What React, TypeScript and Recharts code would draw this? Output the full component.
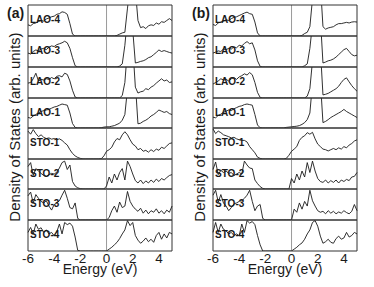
import { Line, LineChart, ReferenceLine, XAxis, YAxis } from "recharts"

const energies = [
	-6, -5.8, -5.6, -5.4, -5.2, -5, -4.8, -4.6, -4.4, -4.2,
	-4, -3.8, -3.6, -3.4, -3.2, -3, -2.8, -2.6, -2.4, -2.2,
	-2, -1.8, -1.6, -1.4, -1.2, -1, -0.8, -0.6, -0.4, -0.2,
	0, 0.2, 0.4, 0.6, 0.8, 1, 1.2, 1.4, 1.6, 1.8,
	2, 2.2, 2.4, 2.6, 2.8, 3, 3.2, 3.4, 3.6, 3.8,
	4, 4.2, 4.4, 4.6, 4.8, 5,
]
const layers = ["LAO-4", "LAO-3", "LAO-2", "LAO-1", "STO-1", "STO-2", "STO-3", "STO-4"]
const energyTicks = [-6, -4, -2, 0, 2, 4]
const minorTicks = [-6, -5, -4, -3, -2, -1, 0, 1, 2, 3, 4, 5]

// panel (a)
const aLao4 = [
	0.36, 0.33, 0.4, 0.42, 0.47, 0.5, 0.48, 0.55, 0.58, 0.62,
	0.64, 0.7, 0.72, 0.78, 0.76, 0.7, 0.4, 0.06, 0, 0,
	0, 0, 0, 0, 0, 0, 0, 0, 0, 0,
	0, 0, 0, 0, 0.02, 0.06, 0.1, 0.12, 0.9, 1.6,
	1.7, 1.5, 0.5, 0.27, 0.3, 0.24, 0.33, 0.36, 0.34, 0.42,
	0.38, 0.46, 0.44, 0.5, 0.56, 0.5,
]
const aLao3 = [
	0.45, 0.42, 0.5, 0.55, 0.52, 0.58, 0.6, 0.56, 0.64, 0.68,
	0.66, 0.72, 0.75, 0.78, 0.83, 0.78, 0.6, 0.3, 0.04, 0,
	0, 0, 0, 0, 0, 0, 0, 0, 0, 0,
	0, 0, 0, 0, 0, 0.03, 0.1, 0.7, 1.6, 1.7,
	1.2, 0.13, 0.15, 0.18, 0.2, 0.24, 0.3, 0.33, 0.4, 0.47,
	0.55, 0.5, 0.53, 0.5, 0.47, 0.45,
]
const aLao2 = [
	0.48, 0.5, 0.62, 0.8, 0.55, 0.6, 0.58, 0.62, 0.6, 0.66,
	0.62, 0.7, 0.72, 0.68, 0.8, 0.76, 0.55, 0.25, 0.03, 0,
	0, 0, 0, 0, 0, 0, 0, 0, 0, 0,
	0, 0, 0, 0, 0, 0, 0.08, 0.5, 1.6, 1.7,
	1.7, 0.35, 0.16, 0.2, 0.22, 0.3, 0.27, 0.35, 0.4, 0.48,
	0.55, 0.62, 0.55, 0.58, 0.5, 0.52,
]
const aLao1 = [
	0.35, 0.33, 0.4, 0.45, 0.5, 0.55, 0.58, 0.6, 0.62, 0.66,
	0.7, 0.72, 0.76, 0.8, 0.78, 0.76, 0.5, 0.15, 0.02, 0,
	0, 0, 0, 0, 0, 0, 0, 0, 0.01, 0.03,
	0.04, 0.04, 0.06, 0.08, 0.12, 0.16, 0.26, 0.45, 1.3, 1.7,
	1.7, 1.5, 0.14, 0.16, 0.22, 0.26, 0.32, 0.4, 0.45, 0.52,
	0.6, 0.56, 0.52, 0.55, 0.48, 0.45,
]
const aSto1 = [
	0.9, 0.8, 0.95, 0.82, 0.72, 0.78, 0.7, 0.66, 0.68, 0.64,
	0.66, 0.62, 0.65, 0.6, 0.52, 0.45, 0.3, 0.18, 0.1, 0.05,
	0.02, 0, 0, 0, 0, 0, 0, 0, 0.01, 0.1,
	0.25, 0.3, 0.38, 0.55, 0.66, 0.62, 0.78, 0.88, 0.78, 0.62,
	0.48, 0.42, 0.3, 0.34, 0.25, 0.28, 0.22, 0.3, 0.24, 0.32,
	0.28, 0.38, 0.34, 0.42, 0.5, 0.52,
]
const aSto2 = [
	0.75, 0.88, 0.45, 0.68, 0.6, 0.52, 0.45, 0.42, 0.48, 0.52,
	0.5, 0.56, 0.7, 0.88, 0.93, 0.65, 0.8, 0.25, 0.1, 0.04,
	0.01, 0, 0, 0, 0, 0, 0, 0, 0, 0,
	0.1, 0.4, 0.2, 0.5, 0.3, 0.55, 0.68, 0.3, 0.93, 0.75,
	0.5, 0.28, 0.2, 0.3, 0.18, 0.27, 0.2, 0.3, 0.22, 0.33,
	0.25, 0.35, 0.3, 0.38, 0.45, 0.48,
]
const aSto3 = [
	0.78, 0.9, 0.55, 0.82, 0.7, 0.6, 0.55, 0.62, 0.45, 0.32,
	0.5, 0.55, 0.62, 0.8, 0.96, 0.7, 0.4, 0.36, 0.55, 0.05,
	0, 0, 0, 0, 0, 0, 0, 0, 0, 0,
	0, 0.08, 0.3, 0.45, 0.25, 0.58, 0.4, 0.45, 0.92, 0.6,
	0.45, 0.35, 0.28, 0.38, 0.22, 0.32, 0.2, 0.3, 0.25, 0.36,
	0.22, 0.3, 0.2, 0.32, 0.25, 0.45,
]
const aSto4 = [
	0.6, 0.76, 0.55, 0.87, 0.7, 0.75, 0.6, 0.68, 0.55, 0.6,
	0.49, 0.62, 0.87, 0.55, 0.92, 0.85, 0.9, 0.8, 0.45, 0.02,
	0, 0, 0, 0, 0, 0, 0, 0, 0, 0,
	0, 0.06, 0.12, 0.2, 0.28, 0.4, 0.55, 0.68, 0.98, 0.82,
	0.92, 0.5, 0.35, 0.25, 0.32, 0.42, 0.3, 0.38, 0.28, 0.5,
	0.6, 0.38, 0.55, 0.42, 0.6, 0.55,
]

// panel (b)
const bLao4 = [
	0.37, 0.34, 0.42, 0.45, 0.48, 0.52, 0.5, 0.56, 0.6, 0.62,
	0.66, 0.7, 0.74, 0.77, 0.72, 0.7, 0.45, 0.1, 0, 0,
	0, 0, 0, 0, 0, 0, 0, 0, 0, 0,
	0, 0, 0, 0, 0.02, 0.08, 0.12, 0.3, 1.2, 1.6,
	1.7, 1.7, 0.3, 0.22, 0.26, 0.28, 0.3, 0.36, 0.4, 0.4,
	0.42, 0.44, 0.42, 0.45, 0.46, 0.45,
]
const bLao3 = [
	0.45, 0.48, 0.52, 0.5, 0.58, 0.56, 0.6, 0.58, 0.65, 0.62,
	0.7, 0.68, 0.76, 0.82, 0.75, 0.78, 0.55, 0.2, 0.02, 0,
	0, 0, 0, 0, 0, 0, 0, 0, 0, 0,
	0, 0, 0, 0, 0, 0.04, 0.1, 0.6, 1.4, 1.7,
	1.7, 1.6, 0.13, 0.16, 0.2, 0.22, 0.26, 0.32, 0.4, 0.48,
	0.56, 0.6, 0.5, 0.4, 0.36, 0.38,
]
const bLao2 = [
	0.45, 0.5, 0.55, 0.62, 0.58, 0.6, 0.55, 0.62, 0.66, 0.6,
	0.68, 0.72, 0.78, 0.74, 0.82, 0.75, 0.5, 0.18, 0.02, 0,
	0, 0, 0, 0, 0, 0, 0, 0, 0, 0,
	0, 0, 0, 0, 0, 0, 0.06, 0.3, 1.2, 1.7,
	1.7, 1.6, 0.1, 0.12, 0.15, 0.2, 0.25, 0.3, 0.38, 0.5,
	0.6, 0.65, 0.52, 0.4, 0.3, 0.22,
]
const bLao1 = [
	0.36, 0.34, 0.42, 0.46, 0.52, 0.56, 0.6, 0.58, 0.64, 0.68,
	0.72, 0.74, 0.78, 0.8, 0.78, 0.76, 0.45, 0.1, 0.01, 0,
	0, 0, 0, 0, 0, 0, 0, 0, 0.02, 0.03,
	0.04, 0.05, 0.06, 0.08, 0.12, 0.18, 0.28, 0.5, 1.5, 1.7,
	1.7, 1.6, 0.18, 0.22, 0.28, 0.35, 0.4, 0.45, 0.5, 0.55,
	0.62, 0.55, 0.5, 0.45, 0.4, 0.35,
]
const bSto1 = [
	0.97, 0.82, 0.9, 0.85, 0.78, 0.75, 0.72, 0.68, 0.7, 0.65,
	0.62, 0.6, 0.6, 0.55, 0.4, 0.3, 0.2, 0.06, 0.02, 0,
	0, 0, 0, 0, 0, 0, 0, 0, 0.02, 0.12,
	0.25, 0.32, 0.4, 0.6, 0.7, 0.75, 0.85, 0.8, 0.86, 0.65,
	0.48, 0.4, 0.32, 0.3, 0.26, 0.3, 0.34, 0.3, 0.36, 0.32,
	0.4, 0.36, 0.45, 0.5, 0.58, 0.62,
]
const bSto2 = [
	0.65, 0.9, 0.48, 0.62, 0.55, 0.6, 0.52, 0.55, 0.45, 0.5,
	0.55, 0.5, 0.93, 0.8, 0.7, 0.68, 0.3, 0.18, 0.08, 0.02,
	0, 0, 0, 0, 0, 0, 0, 0, 0, 0,
	0.35, 0.2, 0.5, 0.3, 0.6, 0.4, 0.88, 0.55, 0.93, 0.6,
	0.35, 0.25, 0.22, 0.3, 0.2, 0.28, 0.22, 0.3, 0.2, 0.3,
	0.25, 0.32, 0.28, 0.4, 0.42, 0.55,
]
const bSto3 = [
	0.8, 0.96, 0.58, 0.82, 0.55, 0.45, 0.3, 0.4, 0.52, 0.55,
	0.6, 0.62, 0.7, 0.8, 0.96, 0.6, 0.3, 0.45, 0.5, 0.05,
	0, 0, 0, 0, 0, 0, 0, 0, 0, 0,
	0, 0.35, 0.25, 0.55, 0.35, 0.6, 0.45, 0.96, 0.62, 0.45,
	0.3, 0.25, 0.28, 0.2, 0.3, 0.22, 0.28, 0.2, 0.26, 0.22,
	0.3, 0.24, 0.2, 0.28, 0.5, 0.3,
]
const bSto4 = [
	0.6, 0.92, 0.6, 0.87, 0.7, 0.65, 0.55, 0.6, 0.5, 0.55,
	0.49, 0.87, 0.6, 0.98, 0.9, 0.95, 0.85, 0.5, 0.2, 0,
	0, 0, 0, 0, 0, 0, 0, 0, 0, 0,
	0, 0.06, 0.12, 0.2, 0.26, 0.38, 0.55, 0.68, 0.92, 0.98,
	0.8, 0.48, 0.25, 0.3, 0.38, 0.28, 0.25, 0.4, 0.48, 0.38,
	0.42, 0.6, 0.45, 0.5, 0.6, 0.55,
]

const panelA = [aLao4, aLao3, aLao2, aLao1, aSto1, aSto2, aSto3, aSto4]
const panelB = [bLao4, bLao3, bLao2, bLao1, bSto1, bSto2, bSto3, bSto4]

// subplot borders (page y), plot width, side padding of each svg
const bounds = [5, 36, 67, 98, 128, 159, 189, 220, 251]
const plotW = 144
const padX = 12
const font = "'Liberation Sans', Arial, sans-serif"
const frame = "#333"
const ink = "#1a1a1a"

type SubProps = { series: number[]; x0: number; k: number }

const Sub = ({ series, x0, k }: SubProps) => {
	const top = bounds[k]
	const h = bounds[k + 1] - top
	const last = k === bounds.length - 2
	const extra = last ? 22 : 0
	const data = energies.map((e, i) => ({ e, dos: series[i] }))
	// mirrored axes take no room, so they only draw the frame and inward ticks
	const axisProps = {
		type: "number" as const,
		dataKey: "e",
		domain: [-6, 5],
		ticks: minorTicks,
		interval: 0,
		height: 1,
		mirror: true,
		tick: false,
		tickSize: 3,
		stroke: frame,
	}
	return (
		<div style={{ position: "absolute", left: x0 - padX, top: top - 1 }}>
			<LineChart
				width={plotW + 2 * padX}
				height={h + 2 + extra}
				data={data}
				margin={{ top: 1, right: padX, bottom: 1, left: padX }}
			>
				<XAxis xAxisId="t" orientation="top" {...axisProps} />
				<XAxis xAxisId="b" orientation="bottom" {...axisProps} />
				{last && (
					<XAxis
						xAxisId="lbl"
						orientation="bottom"
						type="number"
						dataKey="e"
						domain={[-6, 5]}
						ticks={energyTicks}
						interval={0}
						height={22}
						axisLine={false}
						tickLine={false}
						tickSize={0}
						tickMargin={2}
						tick={{ fontSize: 13.5, fill: ink, fontFamily: font }}
					/>
				)}
				<YAxis yAxisId="l" hide type="number" domain={[0, 1]} allowDataOverflow />
				<ReferenceLine xAxisId="b" yAxisId="l" x={0} stroke="#9a9a9a" />
				<ReferenceLine xAxisId="b" yAxisId="l" x={-6} stroke={frame} />
				<ReferenceLine xAxisId="b" yAxisId="l" x={5} stroke={frame} />
				<Line
					xAxisId="b"
					yAxisId="l"
					type="linear"
					dataKey="dos"
					stroke={ink}
					strokeWidth={0.9}
					dot={false}
					isAnimationActive={false}
				/>
			</LineChart>
		</div>
	)
}

const Texts = ({ x0, tag }: { x0: number; tag: string }) => (
	<>
		<text x={x0 - 21} y={18} fontSize={14} fontWeight="bold" fill={ink}>
			{tag}
		</text>
		<text
			x={x0 - 8}
			y={127}
			transform={`rotate(-90 ${x0 - 8} 127)`}
			textAnchor="middle"
			fontSize={15}
			fill={ink}
		>
			Density of States (arb. units)
		</text>
		<text x={x0 + plotW / 2} y={274} textAnchor="middle" fontSize={14} fill={ink}>
			Energy (eV)
		</text>
		{layers.map((name, k) => (
			<text
				key={name}
				x={x0 + 2}
				y={bounds[k] + 18}
				fontSize={10}
				fontWeight="bold"
				fill={ink}
			>
				{name}
			</text>
		))}
	</>
)

const App = () => {
	return (
		<div
			style={{
				position: "absolute",
				left: 0,
				top: 0,
				width: 374,
				height: 287,
				background: "#fff",
				fontFamily: font,
			}}
		>
			{panelA.map((s, k) => (
				<Sub key={"a" + k} series={s} x0={28} k={k} />
			))}
			{panelB.map((s, k) => (
				<Sub key={"b" + k} series={s} x0={213} k={k} />
			))}
			<svg
				width={374}
				height={287}
				style={{ position: "absolute", left: 0, top: 0, pointerEvents: "none" }}
				fontFamily={font}
			>
				<Texts x0={28} tag="(a)" />
				<Texts x0={213} tag="(b)" />
			</svg>
		</div>
	)
}

export default App
